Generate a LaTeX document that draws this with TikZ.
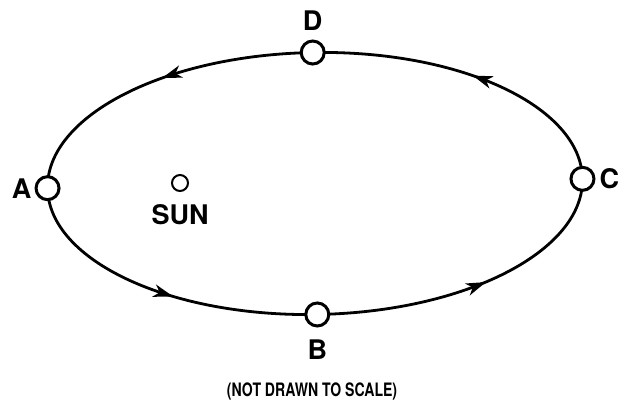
\documentclass[tikz,border=0pt]{standalone}
\usepackage{fontspec}
\setmainfont{TeX Gyre Heros}
\usetikzlibrary{positioning,decorations.markings}

\newcommand{\orbithead}{\fill (5pt,0pt) -- (-15pt,6.5pt) -- (-9pt,0pt) -- (-15pt,-6.5pt) -- cycle;}

\tikzset{
  orbit/.style={line width=2.8pt, postaction={decorate},
    decoration={markings,
      mark=at position 0.12 with {\orbithead},
      mark=at position 0.365 with {\orbithead},
      mark=at position 0.633 with {\orbithead},
      mark=at position 0.88 with {\orbithead}}},
  planet/.style={circle, draw, line width=3pt, fill=white, minimum size=23pt, inner sep=0pt},
  sunmark/.style={circle, draw, line width=2pt, fill=white, minimum size=16pt, inner sep=0pt},
  lbl/.style={font=\fontsize{27}{29}\selectfont\bfseries, inner sep=0pt}
}

\begin{document}
\begin{tikzpicture}[x=1pt,y=1pt]
\useasboundingbox (0,0) rectangle (620,405);
% orbit and the four positions
\begin{scope}[shift={(315,221.5)},rotate=1]
\draw[orbit] (0,0) ellipse [x radius=267.5, y radius=131];
\node[planet] (A) at (-267.5,0) {};
\node[planet] (B) at (0,-131) {};
\node[planet] (C) at (267.5,0) {};
\node[planet] (D) at (0,131) {};
\end{scope}
\node[lbl, left=3pt of A] (Alab) {A};
\node[lbl, below=12pt of B] (Blab) {B};
\node[lbl, right=4pt of C] (Clab) {C};
\node[lbl, above=9pt of D] (Dlab) {D};
% sun
\node[sunmark] (sun) at (180,222) {};
\node[lbl, below=12pt of sun] (sunlab) {SUN};
% note
\node[font=\fontsize{18.5}{20}\selectfont\bfseries, inner sep=0pt] (note) at (312,14) {\scalebox{0.76}[1]{(NOT DRAWN TO SCALE)}};
\end{tikzpicture}
\end{document}
